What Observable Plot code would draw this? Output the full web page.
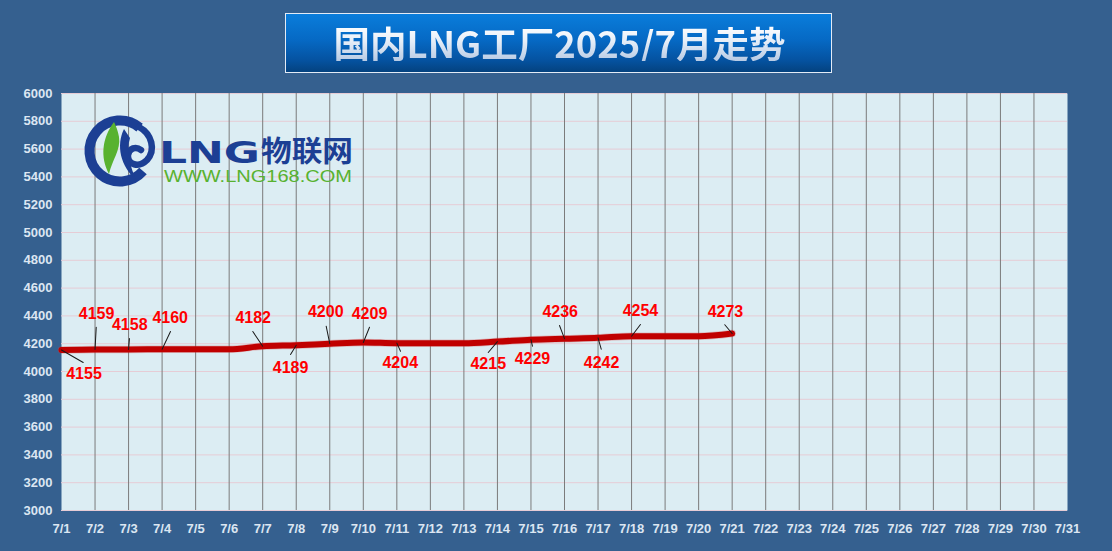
<!DOCTYPE html>
<html>
<head>
<meta charset="utf-8">
<script src="https://cdn.jsdelivr.net/npm/d3@7"></script>
<script src="https://cdn.jsdelivr.net/npm/@observablehq/plot@0.6"></script>
<style>
  html, body { margin: 0; padding: 0; background: #35608f; }
  #wrap { position: relative; width: 1112px; height: 551px; overflow: hidden; background: #35608f; }
  #title {
    position: absolute; left: 285px; top: 13px; width: 545px; height: 58px;
    border: 1px solid #e3ebf6;
    background: linear-gradient(to bottom, #0a7ddb 0%, #0669c4 45%, #0552a0 80%, #04427f 100%);
    display: flex; align-items: center; justify-content: center;
  }
  #title span {
    font-family: "Noto Sans CJK SC", "Noto Sans", sans-serif; font-weight: 700; font-size: 36.5px;
    background: linear-gradient(to bottom, #ffffff 0%, #e6eef8 45%, #b7cae4 100%);
    -webkit-background-clip: text; background-clip: text; color: transparent;
    margin-left: 2px; line-height: 1;
  }
  #chart { position: absolute; left: 0; top: 0; }
  #logo { position: absolute; left: 0; top: 0; pointer-events: none; }
</style>
</head>
<body>
<div id="wrap">
  <div id="chart"></div>
  <svg id="logo" width="1112" height="551" xmlns="http://www.w3.org/2000/svg">
    <path d="M139.6 127.6 A30.5 30.5 0 1 0 143 171" fill="none" stroke="#1c3f94" stroke-width="10"/>
    <path d="M139 127 C152 134 156 150 147 160 C139 168 127 165 128 155 C129 148 136 146 141 150" fill="none" stroke="#1c3f94" stroke-width="6.5" stroke-linecap="round"/>
    <path d="M114 122 C102 138 100 157 109 174 C112 160 121 150 119 137 C118 131 116 126 114 122 Z" fill="#58b230"/>
    <path d="M124 129 C116 145 120 166 137 181 C130 168 126 150 130 138 Z" fill="#1c3f94"/>
    <text x="159" y="163" font-family="DejaVu Sans, sans-serif" font-weight="bold" font-size="30" fill="#1c3f94" textLength="101" lengthAdjust="spacingAndGlyphs">LNG</text>
    <text x="261" y="162" font-family="Noto Sans CJK SC, sans-serif" font-weight="bold" font-size="29" fill="#1c3f94" textLength="92" lengthAdjust="spacingAndGlyphs">物联网</text>
    <text x="164" y="182" font-family="Liberation Sans, Arial, sans-serif" font-size="17" fill="#58b230" textLength="188" lengthAdjust="spacingAndGlyphs">WWW.LNG168.COM</text>
  </svg>
  <div id="title"><span>国内LNG工厂2025/7月走势</span></div>
</div>
<script>
// ---- data ----
const days = ["7/1","7/2","7/3","7/4","7/5","7/6","7/7","7/8","7/9","7/10",
              "7/11","7/12","7/13","7/14","7/15","7/16","7/17","7/18","7/19","7/20",
              "7/21","7/22","7/23","7/24","7/25","7/26","7/27","7/28","7/29","7/30","7/31"];
const prices = [4155, 4159, 4158, 4160, 4160, 4160, 4182, 4189, 4200, 4209,
                4204, 4204, 4204, 4215, 4229, 4236, 4242, 4254, 4254, 4254, 4273];
const labelledDays = ["7/1","7/2","7/3","7/4","7/7","7/8","7/9","7/10","7/11",
                      "7/14","7/15","7/16","7/17","7/18","7/21"];
const yTicks = [3000,3200,3400,3600,3800,4000,4200,4400,4600,4800,5000,5200,5400,5600,5800,6000];

// ---- layout of the data labels (pixel offsets from their point) ----
const labelOffsets = [[22.5,24],[1.5,-35.6],[1.2,-25],[8.1,-31.8],[-9.5,-28.2],[-5.7,22.3],
  [-4,-32.2],[6.2,-28.9],[3.4,19.4],[-9.2,22.6],[1.5,19.1],[-4.3,-27.2],[3.5,24.6],[8.9,-25.2],[-6.7,-22.1]];
const leaderOffsets = [[21.7,12.5],[1.2,-22.2],[0.9,-11],[8.4,-17.8],[-9.9,-14.7],[-5.7,9.3],
  [-3.6,-17.5],[6.2,-15.2],[3.7,8.1],[-9.2,10.9],[1.5,6.5],[-5,-13.2],[3.2,11.3],[8.9,-11.7],[-7.4,-8.8]];

const series = prices.map((p, i) => ({day: days[i], price: p}));
const labelled = labelledDays.map((d, i) => {
  const p = prices[days.indexOf(d)];
  const [lx, ly] = leaderOffsets[i];
  return {day: d, price: p, len: Math.hypot(lx, ly), rot: Math.atan2(lx, -ly) * 180 / Math.PI};
});

const labelMarks = labelled.map((d, i) => Plot.text([d], {
  x: "day", y: "price", text: v => String(v.price),
  dx: labelOffsets[i][0], dy: labelOffsets[i][1],
  fill: "#ff0000", fontSize: 16, fontWeight: "bold",
  fontFamily: "Liberation Sans, Arial, sans-serif", textAnchor: "middle"
}));

const chart = Plot.plot({
  width: 1112, height: 551,
  marginLeft: 61, marginRight: 45, marginTop: 93, marginBottom: 41,
  style: {background: "transparent", color: "#dce6f2", fontFamily: "Liberation Sans, Arial, sans-serif",
          fontSize: "13px", fontWeight: "bold"},
  x: {type: "point", domain: days, padding: 0, round: false, label: null, tickSize: 0, tickPadding: 13},
  y: {domain: [3000, 6000], ticks: yTicks, tickFormat: d => String(d), label: null, tickSize: 0, tickPadding: 9},
  length: {type: "identity"},
  marks: [
    Plot.frame({fill: "#dcedf3", stroke: "none"}),
    Plot.ruleY(yTicks, {stroke: "#e6ccd5", strokeWidth: 1}),
    Plot.ruleX(days.slice(1, -1), {stroke: "#7b7b7b", strokeWidth: 1}),
    Plot.line(series, {x: "day", y: "price", stroke: "#d84a4a", strokeWidth: 7.5, strokeOpacity: 0.3, curve: "monotone-x"}),
    Plot.line(series, {x: "day", y: "price", stroke: "#c00000", strokeWidth: 6, curve: "monotone-x"}),
    Plot.vector(labelled, {x: "day", y: "price", length: "len", rotate: "rot", shape: "spike", r: 0,
      anchor: "start", stroke: "#1a1a1a", fill: "none", strokeWidth: 1}),
    ...labelMarks
  ]
});
document.getElementById("chart").appendChild(chart);
</script>
</body>
</html>
